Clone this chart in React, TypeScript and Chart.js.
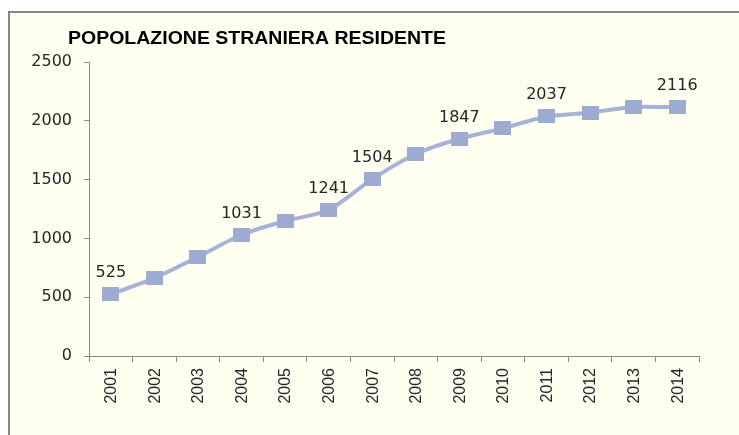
import React, { useEffect, useRef } from "react";
import { Chart, registerables } from "chart.js";

Chart.register(...registerables);

const TITLE = "POPOLAZIONE STRANIERA RESIDENTE";
const YEARS = ["2001", "2002", "2003", "2004", "2005", "2006", "2007", "2008", "2009", "2010", "2011", "2012", "2013", "2014"];
const RESIDENTS = [525, 662, 842, 1031, 1148, 1241, 1504, 1718, 1847, 1936, 2037, 2069, 2118, 2116];
const LABELLED_YEARS = ["2001", "2004", "2006", "2007", "2009", "2011", "2014"];
const Y_MIN = 0;
const Y_MAX = 2500;
const Y_STEP = 500;

const BG = "#FFFFF2";
const LINE_COLOR = "#A6B3D7";
const MARKER_COLOR = "#9EABD0";
const AXIS_COLOR = "#8A8A8A";
const TEXT_COLOR = "#262626";

function makeMarker(): HTMLCanvasElement {
  const c = document.createElement("canvas");
  c.width = 17;
  c.height = 14;
  const ctx = c.getContext("2d")!;
  ctx.fillStyle = MARKER_COLOR;
  ctx.fillRect(0, 0, 17, 14);
  return c;
}

const overlayPlugin = {
  id: "overlay",
  afterDatasetsDraw(chart: any) {
    const ctx = chart.ctx;
    ctx.save();
    // title, stretched to the reference width
    ctx.fillStyle = "#000";
    ctx.font = "bold 19px 'Liberation Sans', Arial, sans-serif";
    ctx.textBaseline = "middle";
    ctx.textAlign = "left";
    const w = ctx.measureText(TITLE).width;
    ctx.save();
    ctx.translate(68, 39);
    ctx.scale(378 / w, 1);
    ctx.fillText(TITLE, 0, 0);
    ctx.restore();

    // data labels
    ctx.fillStyle = TEXT_COLOR;
    ctx.font = "16px 'DejaVu Sans', sans-serif";
    ctx.textAlign = "center";
    ctx.textBaseline = "alphabetic";
    const meta = chart.getDatasetMeta(0);
    YEARS.forEach((y, i) => {
      if (!LABELLED_YEARS.includes(y)) return;
      const pt = meta.data[i];
      ctx.fillText(String(RESIDENTS[i]), pt.x, pt.y - 17);
    });

    // rotated x labels
    const xs = chart.scales.x;
    ctx.font = "16px 'Liberation Sans', Arial, sans-serif";
    ctx.textAlign = "right";
    ctx.textBaseline = "middle";
    YEARS.forEach((y, i) => {
      const x = xs.getPixelForValue(i);
      ctx.save();
      ctx.translate(x + 1, xs.top + 12);
      ctx.rotate(-Math.PI / 2);
      ctx.fillText(y, 0, 0);
      ctx.restore();
    });
    ctx.restore();
  },
};

export default function App() {
  const ref = useRef<HTMLCanvasElement>(null);
  useEffect(() => {
    const marker = makeMarker();
    const chart = new Chart(ref.current!, {
      type: "line",
      data: {
        labels: YEARS,
        datasets: [
          {
            data: RESIDENTS,
            borderColor: LINE_COLOR,
            borderWidth: 4,
            tension: 0.25,
            pointStyle: marker as any,
            pointRadius: 8,
            backgroundColor: MARKER_COLOR,
          },
        ],
      },
      options: {
        animation: false,
        responsive: false,
        maintainAspectRatio: false,
        layout: { padding: { top: 62, left: 0, right: 40, bottom: 0 } },
        plugins: {
          legend: { display: false },
          title: { display: false },
          tooltip: { enabled: false },
        },
        scales: {
          x: {
            type: "category",
            offset: true,
            afterFit: (s: any) => {
              s.height = 79;
            },
            grid: {
              offset: true,
              drawOnChartArea: false,
              drawTicks: true,
              tickLength: 6,
              color: AXIS_COLOR,
            },
            border: { display: true, color: AXIS_COLOR, width: 1 },
            ticks: {
              display: false,
              autoSkip: false,
            },
          },
          y: {
            min: Y_MIN,
            max: Y_MAX,
            afterFit: (s: any) => {
              s.width = 89;
            },
            grid: {
              drawOnChartArea: false,
              drawTicks: true,
              tickLength: 5,
              color: AXIS_COLOR,
            },
            border: { display: true, color: AXIS_COLOR, width: 1 },
            ticks: {
              stepSize: Y_STEP,
              padding: 12,
              color: TEXT_COLOR,
              font: { family: "'DejaVu Sans', sans-serif", size: 16 },
              callback: (v: any) => String(v),
            },
          },
        },
      },
      plugins: [overlayPlugin],
    });
    return () => chart.destroy();
  }, []);

  return (
    <div style={{ position: "fixed", left: 0, top: 0, width: 739, height: 435, background: "#fff", overflow: "hidden" }}>
      <div
        style={{
          position: "absolute",
          left: 8,
          top: 11,
          width: 760,
          height: 460,
          background: BG,
          border: "2px solid #878787",
          boxSizing: "border-box",
        }}
      />
      <canvas ref={ref} width={739} height={435} style={{ position: "absolute", left: 0, top: 0 }} />
    </div>
  );
}
